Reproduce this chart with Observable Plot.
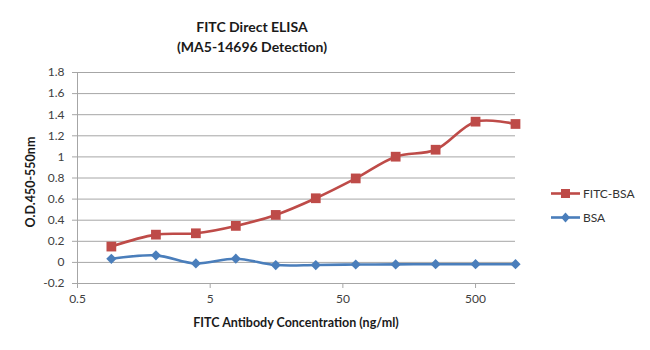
<!DOCTYPE html>
<html>
<head>
<meta charset="utf-8">
<script src="https://cdn.jsdelivr.net/npm/d3@7"></script>
<script src="https://cdn.jsdelivr.net/npm/@observablehq/plot@0.6"></script>
<style>
  html, body { margin: 0; padding: 0; background: #fff; }
  #wrap { position: relative; width: 650px; height: 350px; font-family: Lato, "Open Sans", sans-serif; }
  #chart { position: absolute; left: 0; top: 0; }
  .title { position: absolute; left: 152px; width: 200px; text-align: center; font-weight: bold; font-size: 14px; color: #1a1a1a; white-space: nowrap; }
  .xlabel { position: absolute; left: 146px; width: 300px; top: 315px; text-align: center; font-weight: bold; font-size: 12.5px; color: #1a1a1a; white-space: nowrap; }
  .ylabel { position: absolute; left: 30px; top: 182px; transform: translate(-50%, -50%) rotate(-90deg); font-weight: bold; font-size: 12.5px; color: #1a1a1a; white-space: nowrap; }
  .legend { position: absolute; left: 551px; top: 182px; font-size: 12px; color: #333; }
  .legend .row { display: flex; align-items: center; height: 23.5px; }
  .legend svg { margin-right: 2px; }
</style>
</head>
<body>
<div id="wrap">
  <div id="chart"></div>
</div>
<script>
// ---- data ----
const concentrations = [0.9, 1.95, 3.9, 7.8, 15.6, 31.25, 62.5, 125, 250, 500, 1000];
const fitcBsa = [0.15, 0.263, 0.276, 0.346, 0.45, 0.608, 0.796, 1.002, 1.068, 1.334, 1.312];
const bsa = [0.034, 0.067, -0.01, 0.035, -0.025, -0.025, -0.02, -0.019, -0.017, -0.017, -0.017];
const seriesNames = ["FITC-BSA", "BSA"];
const seriesColors = ["#BE4B48", "#4A7EBB"];
const seriesSymbols = ["square", "diamond2"];
const xTicks = [0.5, 5, 50, 500];
const yTicks = [-0.2, 0, 0.2, 0.4, 0.6, 0.8, 1, 1.2, 1.4, 1.6, 1.8];
const titleLines = ["FITC Direct ELISA", "(MA5-14696 Detection)"];
const xLabel = "FITC Antibody Concentration (ng/ml)";
const yLabel = "O.D.450-550nm";

const seriesValues = [fitcBsa, bsa];
const rows = [];
seriesNames.forEach((name, s) => {
  concentrations.forEach((c, i) => rows.push({series: name, c, v: seriesValues[s][i]}));
});

const gridColor = "#a6a6a6";
const fmtY = d => String(+d.toFixed(1));

const marks = [
  Plot.gridY(yTicks, {stroke: gridColor, strokeOpacity: 1, strokeWidth: 1}),
  Plot.ruleX([xTicks[0]], {stroke: gridColor, strokeWidth: 1}),
  Plot.axisY(yTicks, {tickSize: 5, tickPadding: 8, stroke: gridColor, fill: "#404040", tickFormat: fmtY, label: null, fontSize: 12}),
  Plot.axisX(xTicks, {tickSize: 5, stroke: gridColor, fill: "none", label: null}),
  Plot.text(xTicks, {x: d => d, text: d => String(d), frameAnchor: "bottom", dy: 19, fill: "#404040", fontSize: 12})
];
// draw BSA first, then FITC-BSA
for (let s = seriesNames.length - 1; s >= 0; s--) {
  const data = rows.filter(r => r.series === seriesNames[s]);
  marks.push(Plot.line(data, {x: "c", y: "v", stroke: seriesColors[s], strokeWidth: 2.6, curve: "catmull-rom"}));
  marks.push(Plot.dot(data, {x: "c", y: "v", symbol: seriesSymbols[s], r: s === 0 ? 5.5 : 4.6, fill: seriesColors[s], stroke: "none"}));
}

const chart = Plot.plot({
  width: 650,
  height: 350,
  marginLeft: 77,
  marginRight: 135,
  marginTop: 72,
  marginBottom: 67,
  style: {fontFamily: "Lato, 'Open Sans', sans-serif", fontSize: "12px", background: "#fff"},
  x: {type: "log", domain: [0.5, 1000]},
  y: {domain: [-0.2, 1.8]},
  marks
});
document.getElementById("chart").appendChild(chart);

const wrap = document.getElementById("wrap");
titleLines.forEach((t, i) => {
  const d = document.createElement("div");
  d.className = "title";
  d.style.top = (18 + i * 20) + "px";
  d.textContent = t;
  wrap.appendChild(d);
});
const xl = document.createElement("div");
xl.className = "xlabel"; xl.textContent = xLabel; wrap.appendChild(xl);
const yl = document.createElement("div");
yl.className = "ylabel"; yl.textContent = yLabel; wrap.appendChild(yl);

const lg = document.createElement("div");
lg.className = "legend";
seriesNames.forEach((name, s) => {
  const row = document.createElement("div");
  row.className = "row";
  const sym = seriesSymbols[s] === "square"
    ? `<rect x="10" y="2" width="9" height="9" fill="${seriesColors[s]}"/>`
    : `<path d="M14.5 1.5 L19 6.5 L14.5 11.5 L10 6.5 Z" fill="${seriesColors[s]}"/>`;
  row.innerHTML = `<svg width="30" height="13"><line x1="0" x2="29" y1="6.5" y2="6.5" stroke="${seriesColors[s]}" stroke-width="2.6"/>${sym}</svg><span>${name}</span>`;
  lg.appendChild(row);
});
wrap.appendChild(lg);
</script>
</body>
</html>
